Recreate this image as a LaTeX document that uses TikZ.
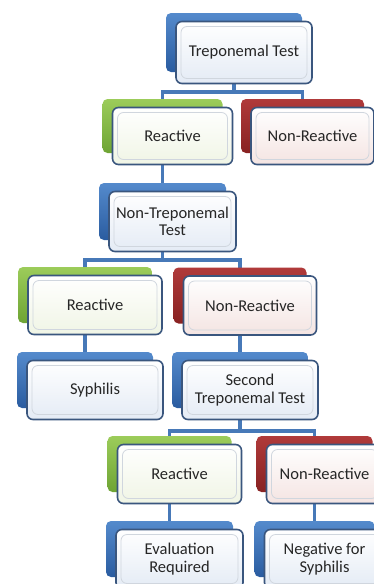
\documentclass[tikz,border=0pt]{standalone}
\usepackage{fontspec}
\setmainfont{Carlito}
\pgfdeclarelayer{bg}
\pgfdeclarelayer{conn}
\pgfsetlayers{bg,conn,main}
\definecolor{connc}{RGB}{71,121,184}
\definecolor{frontline}{RGB}{58,86,126}
\definecolor{txt}{RGB}{38,38,38}
\definecolor{bluetop}{RGB}{84,138,204}
\definecolor{bluebot}{RGB}{42,92,160}
\definecolor{greentop}{RGB}{156,204,90}
\definecolor{greenbot}{RGB}{110,164,52}
\definecolor{redtop}{RGB}{176,58,58}
\definecolor{redbot}{RGB}{136,34,34}
\definecolor{bluefr}{RGB}{228,235,245}
\definecolor{greenfr}{RGB}{240,245,229}
\definecolor{redfr}{RGB}{244,228,226}
\definecolor{bevel}{RGB}{208,214,222}
\tikzset{
  back/.style={rectangle, rounded corners=5pt, inner sep=0pt, draw=none},
  bblue/.style={top color=bluetop, bottom color=bluebot},
  bgreen/.style={top color=greentop, bottom color=greenbot},
  bred/.style={top color=redtop, bottom color=redbot},
  front/.style={rectangle, rounded corners=6pt, inner sep=0pt, draw=frontline,
    line width=1.6pt, align=center, text=txt,
    font=\fontsize{16.5}{17.5}\selectfont,
    path picture={\draw[bevel, line width=0.8pt]
      ([shift={(5,5)}]path picture bounding box.north west) rectangle
      ([shift={(-5,-5)}]path picture bounding box.south east);}},
  fblue/.style={top color=white, bottom color=bluefr},
  fgreen/.style={top color=white, bottom color=greenfr},
  fred/.style={top color=white, bottom color=redfr},
  conn/.style={draw=connc, line width=3.2pt}
}
\newcommand\smbox[8]{%
  \node[back, #6, minimum width=#4pt, minimum height=#5pt] (#1b) at (#2,#3) {};
  \node[front, #7, minimum width=#4pt, minimum height=#5pt+3pt] (#1) at ([shift={(10,10)}]#1b.center) {#8};
}
\begin{document}
\begin{tikzpicture}[x=1pt,y=-1pt]
\useasboundingbox (0,0) rectangle (374,584);
\begin{pgfonlayer}{bg}
\fill[white] (0,0) rectangle (374,584);
\end{pgfonlayer}
\clip (0,0) rectangle (374,584);
\smbox{t1}{234}{42.5}{136}{59}{bblue}{fblue}{Treponemal Test}
\smbox{r1}{162.5}{126}{120}{54}{bgreen}{fgreen}{Reactive}
\smbox{n1}{302.5}{126}{123}{54}{bred}{fred}{Non-Reactive}
\smbox{nt}{162.5}{211.5}{127}{57}{bblue}{fblue}{Non-Treponemal\\Test}
\smbox{r2}{85}{295}{134}{56}{bgreen}{fgreen}{Reactive}
\smbox{n2}{240}{295.5}{133}{56}{bred}{fred}{Non-Reactive}
\smbox{s}{85}{380}{136}{56}{bblue}{fblue}{Syphilis}
\smbox{st}{240}{380}{136}{56}{bblue}{fblue}{Second\\Treponemal Test}
\smbox{r3}{169.5}{464}{124}{56}{bgreen}{fgreen}{Reactive}
\smbox{n3}{314.5}{464}{116}{56}{bred}{fred}{Non-Reactive}
\smbox{e}{169.5}{549}{127}{56}{bblue}{fblue}{Evaluation\\Required}
\smbox{ng}{314.5}{549}{120}{56}{bblue}{fblue}{Negative for\\Syphilis}
\coordinate (bar1) at (0,92);
\coordinate (bar2) at (0,260);
\coordinate (bar3) at (0,431);
\begin{pgfonlayer}{conn}
\draw[conn] (t1b.center) -- (t1b.center |- bar1) -| (r1b.center);
\draw[conn] (t1b.center |- bar1) -| (n1b.center);
\draw[conn] (r1b.center) -- (ntb.center);
\draw[conn] (ntb.center) -- (ntb.center |- bar2) -| (r2b.center);
\draw[conn] (ntb.center |- bar2) -| (n2b.center);
\draw[conn] (r2b.center) -- (sb.center);
\draw[conn] (n2b.center) -- (stb.center);
\draw[conn] (stb.center) -- (stb.center |- bar3) -| (r3b.center);
\draw[conn] (stb.center |- bar3) -| (n3b.center);
\draw[conn] (r3b.center) -- (eb.center);
\draw[conn] (n3b.center) -- (ngb.center);
\end{pgfonlayer}
\end{tikzpicture}
\end{document}
